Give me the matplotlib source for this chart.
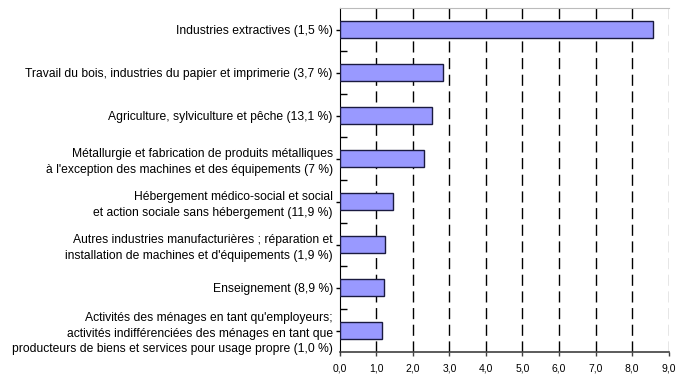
import matplotlib.pyplot as plt
from matplotlib.ticker import FixedLocator

plt.rcParams['font.family'] = ['Liberation Sans', 'DejaVu Sans']

labels = [
    "Industries extractives (1,5 %)",
    "Travail du bois, industries du papier et imprimerie (3,7 %)",
    "Agriculture, sylviculture et pêche (13,1 %)",
    "Métallurgie et fabrication de produits métalliques\nà l'exception des machines et des équipements (7 %)",
    "Hébergement médico-social et social\net action sociale sans hébergement (11,9 %)",
    "Autres industries manufacturières ; réparation et\ninstallation de machines et d'équipements (1,9 %)",
    "Enseignement (8,9 %)",
    "Activités des ménages en tant qu'employeurs;\nactivités indifférenciées des ménages en tant que\nproducteurs de biens et services pour usage propre (1,0 %)",
]
values = [8.58, 2.82, 2.53, 2.31, 1.47, 1.24, 1.21, 1.16]
xticks = [0, 1, 2, 3, 4, 5, 6, 7, 8, 9]

fig = plt.figure(figsize=(6.91, 3.76), dpi=100)
ax = fig.add_axes([0.4916, 0.0638, 0.4761, 0.9149])

pos = list(range(len(labels)))
ax.barh(pos, values, height=0.39, color='#9999FF', edgecolor='#1a1a40', linewidth=1, zorder=3)

ax.set_xlim(0, 9)
ax.set_ylim(len(labels) - 0.5, -0.5)

# dashed grid
for x in xticks[1:]:
    ax.axvline(x, color='black' if x < 9 else '#808080', linestyle=(0, (8, 4)), linewidth=1, zorder=1)

ax.set_xticks(xticks)
ax.set_xticklabels([f"{x},0" for x in xticks], fontsize=7.5)
ax.tick_params(axis='x', direction='out', length=3, width=1, color='#404040', pad=5)

ax.set_yticks(pos)
ax.set_yticklabels(labels, fontsize=8.7, linespacing=1.4)
ax.tick_params(axis='y', direction='out', length=3, width=1, pad=2)
ax.yaxis.set_minor_locator(FixedLocator([p + 0.5 for p in pos[:-1]]))
ax.tick_params(axis='y', which='minor', direction='in', length=5, width=1)

ax.spines['top'].set_color('#bbbbbb')
ax.spines['right'].set_visible(False)
ax.spines['left'].set_color('black')
ax.spines['bottom'].set_color('#404040')
ax.spines['bottom'].set_linewidth(1.2)

fig.savefig('out.png', dpi=100)
